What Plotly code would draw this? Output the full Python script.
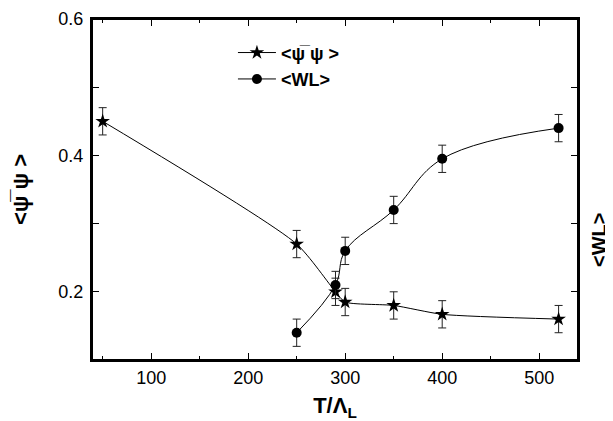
import plotly.graph_objects as go

T_psi = [50, 250, 290, 300, 350, 400, 520]
psi = [0.45, 0.27, 0.20, 0.185, 0.18, 0.167, 0.16]
psi_err = [0.02, 0.02, 0.02, 0.02, 0.02, 0.02, 0.02]

T_wl = [250, 290, 300, 350, 400, 520]
wl = [0.14, 0.21, 0.26, 0.32, 0.395, 0.44]
wl_err = [0.02, 0.02, 0.02, 0.02, 0.02, 0.02]

x_ticks = [100, 200, 300, 400, 500]
x_minor = [50, 150, 250, 350, 450]
y_ticks = [0.2, 0.4, 0.6]
y_minor = [0.3, 0.5]

FONT = "Liberation Sans, Arial, sans-serif"

fig = go.Figure()
fig.add_trace(go.Scatter(
    x=T_psi, y=psi, name="<b><ψ̅ ψ ></b>", mode="lines+markers",
    line=dict(color="black", width=1, shape="spline", smoothing=0.6),
    marker=dict(symbol="star", size=11, color="black"),
    error_y=dict(type="data", array=psi_err, color="#222", thickness=1, width=4),
))
fig.add_trace(go.Scatter(
    x=T_wl, y=wl, name="<b><WL></b>", mode="lines+markers",
    line=dict(color="black", width=1, shape="spline", smoothing=1.1),
    marker=dict(symbol="circle", size=10, color="black"),
    error_y=dict(type="data", array=wl_err, color="#222", thickness=1, width=4),
))
# invisible trace to activate the mirrored axes
fig.add_trace(go.Scatter(x=[T_wl[0]], y=[wl[0]], xaxis="x2", yaxis="y2", showlegend=False,
                         mode="markers", marker=dict(opacity=0), hoverinfo="skip"))

axis_common = dict(showline=True, linecolor="black", linewidth=2,
                   ticks="inside", ticklen=7, tickwidth=1, tickcolor="black",
                   showgrid=False, zeroline=False, automargin=False)
x_minor_cfg = dict(tickvals=x_minor, ticks="inside", ticklen=4, tickcolor="black")
y_minor_cfg = dict(tickvals=y_minor, ticks="inside", ticklen=7, tickcolor="black")

fig.update_layout(
    width=605, height=413,
    margin=dict(l=84, r=35, t=11, b=61),
    paper_bgcolor="white", plot_bgcolor="white",
    font=dict(family=FONT, size=18, color="black"),
    showlegend=True,
    legend=dict(x=0.29, y=0.955, xanchor="left", yanchor="top",
                bgcolor="rgba(0,0,0,0)", font=dict(size=18, family=FONT),
                itemwidth=38),
    xaxis=dict(range=[39, 540], tickvals=x_ticks, minor=x_minor_cfg,
               title=dict(text="<b>T/Λ<sub>L</sub></b>", font=dict(size=22), standoff=11),
               **axis_common),
    xaxis2=dict(overlaying="x", side="top", range=[39, 540], tickvals=x_ticks,
                showticklabels=False, minor=x_minor_cfg, **axis_common),
    yaxis=dict(range=[0.1, 0.6], tickvals=y_ticks, tickformat=".1f", minor=y_minor_cfg,
               ticklabelstandoff=3,
               title=dict(text="<b><ψ̅ ψ ></b>", font=dict(size=22), standoff=28),
               **axis_common),
    yaxis2=dict(overlaying="y", side="right", range=[0.1, 0.6], tickvals=y_ticks,
                minor=y_minor_cfg, showticklabels=False, **axis_common),
)
fig.add_shape(type="rect", xref="paper", yref="paper", x0=0, x1=1, y0=0, y1=1,
              line=dict(color="black", width=2), layer="above")
fig.add_annotation(text="<b><WL></b>", xref="paper", yref="paper",
                   x=1.0 + (599 - 578) / 486, y=(360 - 240) / 341, textangle=-90,
                   xanchor="center", yanchor="middle",
                   showarrow=False, font=dict(size=20, family=FONT))

fig.write_html("out.html")
